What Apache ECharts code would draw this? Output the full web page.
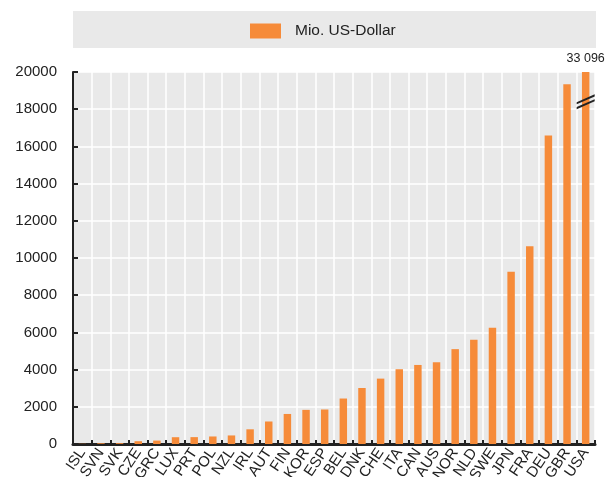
<!DOCTYPE html>
<html>
<head>
<meta charset="utf-8">
<script src="https://cdn.jsdelivr.net/npm/echarts@6/dist/echarts.min.js"></script>
<style>
html,body{margin:0;padding:0;background:#fff;}
#chart{width:609px;height:477px;}
</style>
</head>
<body>
<div id="chart"></div>
<script>
const categories = ['ISL','SVN','SVK','CZE','GRC','LUX','PRT','POL','NZL','IRL','AUT','FIN','KOR','ESP','BEL','DNK','CHE','ITA','CAN','AUS','NOR','NLD','SWE','JPN','FRA','DEU','GBR','USA'];
const values = [10, 40, 45, 150, 185, 365, 370, 405, 460, 790, 1210, 1615, 1835, 1855, 2445, 3010, 3515, 4020, 4250, 4395, 5100, 5605, 6250, 9265, 10630, 16580, 19340, 33096];
const seriesName = 'Mio. US-Dollar';
const yMin = 0, yMax = 20000, yStep = 2000;

const font = 'Liberation Sans, Arial, sans-serif';
const orange = '#F68B39';

function fmt(v){ return String(v).replace(/\B(?=(\d{3})+(?!\d))/g, ' '); }

const barData = values.map(v => {
  if (v > yMax) {
    return { value: yMax, raw: v, label: { show: true, position: 'top', distance: 7, formatter: fmt(v), fontFamily: font, fontSize: 12.5, color: '#222' } };
  }
  return { value: v, raw: v };
});
const breaks = values.map((v,i) => v > yMax ? { coord: [categories[i], yMax*0.92], value: '' } : null).filter(Boolean);

const chart = echarts.init(document.getElementById('chart'), null, {renderer:'canvas'});
chart.setOption({
  animation: false,
  backgroundColor: '#fff',
  graphic: [{
    type: 'rect', left: 73, top: 11, z: -1,
    shape: { width: 523, height: 37 },
    style: { fill: '#e9e9e9' }
  }],
  legend: {
    left: 250, top: 23, padding: 0, itemWidth: 31, itemHeight: 15, itemGap: 10,
    icon: 'rect',
    textStyle: { fontFamily: font, fontSize: 15.5, color: '#222', padding: [0,0,0,9] },
    data: [seriesName]
  },
  grid: { left: 73, right: 14, top: 72, bottom: 33, containLabel: false, outerBoundsMode: 'none',
    show: true, backgroundColor: '#e9e9e9', borderWidth: 0 },
  xAxis: {
    type: 'category', data: categories,
    axisLine: { show: true, lineStyle: { color: '#222', width: 3 } },
    axisTick: { show: true, inside: true, length: 4, lineStyle: { color: '#222', width: 2 } },
    splitLine: { show: true, lineStyle: { color: '#fff', width: 1.5 } },
    axisLabel: { rotate: 56, margin: 6, fontFamily: font, fontSize: 15, color: '#222', interval: 0 }
  },
  yAxis: {
    type: 'value', min: yMin, max: yMax, interval: yStep,
    axisLine: { show: true, lineStyle: { color: '#222', width: 2 } },
    axisTick: { show: true, inside: true, length: 5, lineStyle: { color: '#222', width: 2 } },
    splitLine: { show: true, lineStyle: { color: '#fff', width: 1.5 } },
    axisLabel: { margin: 16, fontFamily: font, fontSize: 15, color: '#222', formatter: v => String(v) }
  },
  series: [{
    name: seriesName, type: 'bar', data: barData, barWidth: '40%',
    itemStyle: { color: orange },
    markPoint: {
      symbol: 'path://M0,8 L18,0 L18,2.2 L0,10.2 Z M0,13 L18,5 L18,7.2 L0,15.2 Z',
      symbolSize: [18, 15],
      itemStyle: { color: '#222' },
      label: { show: false },
      data: breaks
    }
  }]
});
</script>
</body>
</html>
